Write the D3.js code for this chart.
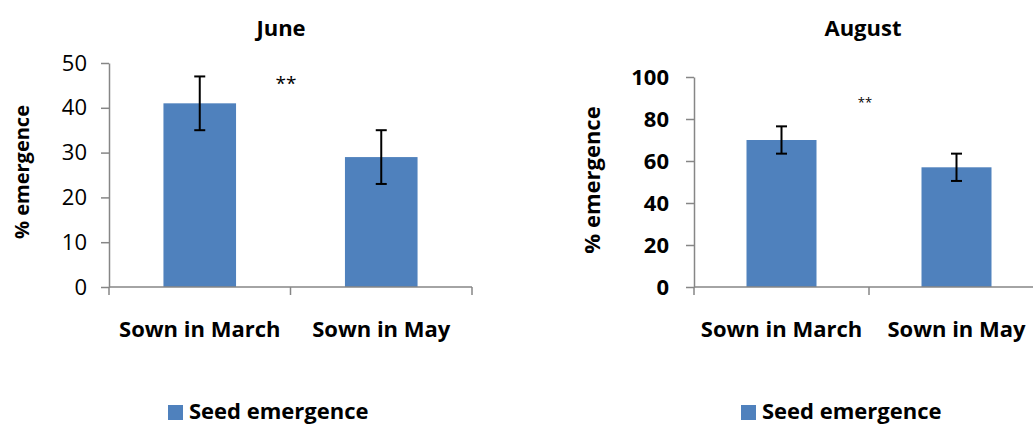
<!DOCTYPE html>
<html>
<head>
<meta charset="utf-8">
<script src="https://cdn.jsdelivr.net/npm/d3@7"></script>
<style>
  html, body { margin: 0; padding: 0; background: #fff; }
  svg { display: block; font-family: "Open Sans", "Liberation Sans", sans-serif; }
</style>
</head>
<body>
<svg id="chart" width="1033" height="426"></svg>
<script>
// ---- data ----
const categories = ["Sown in March", "Sown in May"];
const juneValues = [41, 29];
const juneErrors = [6, 6];
const augustValues = [70, 57];
const augustErrors = [6.5, 6.5];
const juneTicks = [0, 10, 20, 30, 40, 50];
const augustTicks = [0, 20, 40, 60, 80, 100];
const panelTitles = ["June", "August"];
const yAxisLabel = "% emergence";
const legendLabel = "Seed emergence";
const significance = "**";

// ---- layout (positions / styles) ----
const panels = [
  { title: panelTitles[0], values: juneValues, errors: juneErrors, ticks: juneTicks,
    x0: 109, x1: 472, yTop: 63, yBottom: 287, titleX: 281,
    tickFont: "normal", ylabX: 22, ylabY: 172, ylabSize: 20,
    sigX: 286, sigY: 90, sigSize: 19, legX: 168 },
  { title: panelTitles[1], values: augustValues, errors: augustErrors, ticks: augustTicks,
    x0: 694, x1: 1044, yTop: 77, yBottom: 287, titleX: 863,
    tickFont: "bold", ylabX: 593, ylabY: 180, ylabSize: 22,
    sigX: 865, sigY: 107, sigSize: 13, legX: 741 }
];

const barColor = "#4f81bd";
const axisColor = "#868686";
const svg = d3.select("#chart");

panels.forEach(p => {
  const g = svg.append("g");
  const x = d3.scaleBand().domain(categories).range([p.x0, p.x1])
    .paddingInner(0.6).paddingOuter(0.3);
  const xb = d3.scaleBand().domain(categories).range([p.x0, p.x1]).padding(0);
  const y = d3.scaleLinear().domain([p.ticks[0], p.ticks[p.ticks.length - 1]])
    .range([p.yBottom, p.yTop]);

  // title
  g.append("text").attr("x", p.titleX).attr("y", 36)
    .attr("text-anchor", "middle").attr("font-weight", "bold")
    .attr("font-size", 22).attr("fill", "#000").text(p.title);

  // y axis
  const yAxis = d3.axisLeft(y).tickValues(p.ticks).tickSize(8).tickSizeOuter(0).tickPadding(p.tickFont === "bold" ? 17 : 14);
  const ya = g.append("g").attr("transform", `translate(${p.x0},0)`).call(yAxis);
  ya.select(".domain").attr("stroke", axisColor).attr("stroke-width", 1.5);
  ya.selectAll(".tick line").attr("stroke", axisColor).attr("stroke-width", 1.5);
  ya.selectAll(".tick text").attr("font-size", 22).attr("font-weight", p.tickFont)
    .attr("fill", "#000").attr("font-family", "Open Sans, Liberation Sans, sans-serif");

  // bars
  g.selectAll("rect.bar").data(p.values).join("rect").attr("class", "bar")
    .attr("x", (d, i) => x(categories[i]))
    .attr("width", x.bandwidth())
    .attr("y", d => y(d))
    .attr("height", d => y(0) - y(d))
    .attr("fill", barColor);

  // x axis
  const xAxis = d3.axisBottom(x).tickSize(0).tickPadding(34);
  const xa = g.append("g").attr("transform", `translate(0,${p.yBottom})`).call(xAxis);
  xa.select(".domain").remove();
  xa.selectAll(".tick text").attr("font-size", 22).attr("font-weight", "bold")
    .attr("fill", "#000").attr("font-family", "Open Sans, Liberation Sans, sans-serif");
  g.append("line").attr("x1", p.x0).attr("x2", p.x1)
    .attr("y1", y(0)).attr("y2", y(0))
    .attr("stroke", axisColor).attr("stroke-width", 1.5);
  const bounds = categories.map(c => xb(c)).concat([p.x1]);
  g.selectAll("line.xtick").data(bounds).join("line").attr("class", "xtick")
    .attr("x1", d => d).attr("x2", d => d)
    .attr("y1", y(0)).attr("y2", y(0) + 8)
    .attr("stroke", axisColor).attr("stroke-width", 1.5);

  // error bars
  const eg = g.append("g").attr("stroke", "#000").attr("stroke-width", 2);
  p.values.forEach((v, i) => {
    const cx = x(categories[i]) + x.bandwidth() / 2;
    const lo = y(v - p.errors[i]), hi = y(v + p.errors[i]);
    eg.append("line").attr("x1", cx).attr("x2", cx).attr("y1", lo).attr("y2", hi);
    eg.append("line").attr("x1", cx - 5.5).attr("x2", cx + 5.5).attr("y1", lo).attr("y2", lo);
    eg.append("line").attr("x1", cx - 5.5).attr("x2", cx + 5.5).attr("y1", hi).attr("y2", hi);
  });

  // significance
  g.append("text").attr("x", p.sigX).attr("y", p.sigY).attr("text-anchor", "middle")
    .attr("font-size", p.sigSize).attr("fill", "#000").text(significance);

  // y label
  g.append("text").attr("transform", `translate(${p.ylabX + 7},${p.ylabY}) rotate(-90)`)
    .attr("text-anchor", "middle").attr("font-weight", "bold")
    .attr("font-size", p.ylabSize).attr("fill", "#000").text(yAxisLabel);

  // legend
  g.append("rect").attr("x", p.legX).attr("y", 405).attr("width", 15).attr("height", 15)
    .attr("fill", barColor);
  g.append("text").attr("x", p.legX + 21).attr("y", 419)
    .attr("font-size", 22).attr("font-weight", "bold").attr("fill", "#000").text(legendLabel);
});
</script>
</body>
</html>
